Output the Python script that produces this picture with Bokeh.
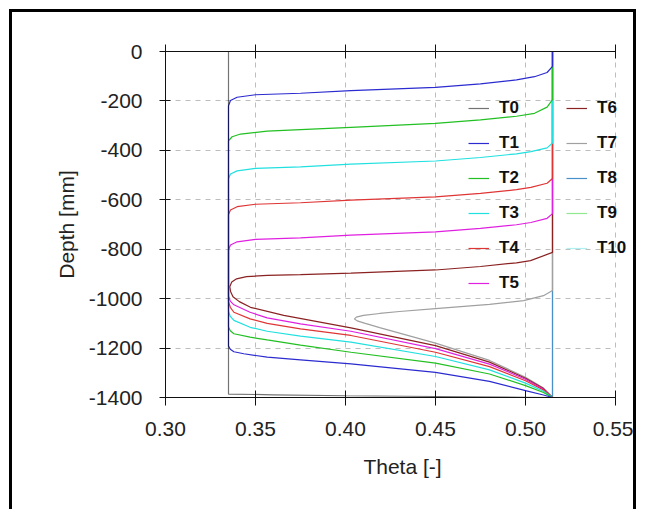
from bokeh.plotting import figure
from bokeh.models import (Range1d, LinearAxis, FixedTicker, NumeralTickFormatter,
                          CustomJSTickFormatter, Legend, LegendItem, ColumnDataSource, Grid)
from bokeh.embed import file_html
from bokeh.resources import INLINE

# ---------------- data ----------------
labels = ["T0", "T1", "T2", "T3", "T4", "T5", "T6", "T7", "T8", "T9", "T10"]
colors = ["#000000", "#2b2bd0", "#22c022", "#22e0e0", "#e03535", "#e020e0",
          "#8b2222", "#a0a0a0", "#4a90c8", "#90e890", "#b0f0f0"]

t0_theta = [0.335, 0.335, 0.36, 0.40, 0.45, 0.50, 0.515]
t0_depth = [0, -1386, -1389, -1393, -1396, -1399, -1400]

t1_theta = [0.515, 0.515, 0.512, 0.505, 0.495, 0.475, 0.45, 0.403, 0.375, 0.35, 0.3398, 0.3361, 0.335,
            0.335, 0.336, 0.338, 0.3435, 0.3565, 0.375, 0.403, 0.45, 0.48, 0.50, 0.51, 0.515]
t1_depth = [0, -60, -85, -102, -115, -131, -145, -158, -169, -175, -185, -198, -220,
            -1192, -1205, -1215, -1223, -1237, -1248, -1264, -1298, -1335, -1372, -1390, -1400]

t2_theta = [0.515, 0.515, 0.512, 0.505, 0.495, 0.475, 0.45, 0.403, 0.375, 0.3565, 0.3417, 0.337, 0.335,
            0.335, 0.336, 0.338, 0.347, 0.3565, 0.375, 0.403, 0.45, 0.48, 0.50, 0.51, 0.515]
t2_depth = [0, -195, -225, -250, -262, -277, -291, -307, -316, -322, -334, -345, -362,
            -1115, -1130, -1142, -1156, -1167, -1188, -1217, -1261, -1305, -1352, -1380, -1400]

t3_theta = [0.515, 0.515, 0.512, 0.503, 0.495, 0.475, 0.45, 0.403, 0.375, 0.35, 0.3398, 0.3361, 0.335,
            0.335, 0.336, 0.338, 0.347, 0.3565, 0.375, 0.403, 0.45, 0.48, 0.50, 0.51, 0.515]
t3_depth = [0, -370, -390, -405, -414, -429, -443, -456, -467, -473, -483, -496, -515,
            -1052, -1072, -1088, -1116, -1132, -1152, -1176, -1234, -1288, -1342, -1375, -1400]

t4_theta = [0.515, 0.515, 0.512, 0.503, 0.495, 0.475, 0.45, 0.403, 0.375, 0.35, 0.3398, 0.3361, 0.335,
            0.335, 0.336, 0.338, 0.347, 0.3565, 0.375, 0.403, 0.45, 0.48, 0.50, 0.51, 0.515]
t4_depth = [0, -514, -533, -550, -559, -574, -588, -601, -612, -618, -628, -641, -660,
            -1012, -1035, -1055, -1082, -1100, -1122, -1149, -1217, -1275, -1332, -1370, -1400]

t5_theta = [0.515, 0.515, 0.512, 0.503, 0.495, 0.475, 0.45, 0.403, 0.375, 0.35, 0.3398, 0.3361, 0.335,
            0.335, 0.336, 0.338, 0.347, 0.3565, 0.375, 0.403, 0.45, 0.48, 0.50, 0.51, 0.515]
t5_depth = [0, -656, -675, -692, -701, -716, -730, -743, -754, -760, -770, -783, -802,
            -990, -1010, -1025, -1055, -1078, -1102, -1132, -1202, -1265, -1326, -1367, -1400]

t6_theta = [0.515, 0.515, 0.5028, 0.495, 0.475, 0.45, 0.403, 0.375, 0.3565, 0.345, 0.3395, 0.3368, 0.3357,
            0.3362, 0.3375, 0.341, 0.3472, 0.3657, 0.403, 0.45, 0.48, 0.50, 0.51, 0.515]
t6_depth = [0, -813, -846, -855, -870, -884, -897, -903, -906, -911, -920, -933, -952,
            -972, -992, -1012, -1035, -1068, -1118, -1190, -1257, -1322, -1364, -1400]

t7_theta = [0.515, 0.515, 0.51, 0.499, 0.48, 0.45, 0.43, 0.419, 0.41, 0.406, 0.405,
            0.4065, 0.411, 0.419, 0.45, 0.48, 0.50, 0.51, 0.515]
t7_depth = [0, -967, -988, -1008, -1023, -1040, -1052, -1060, -1068, -1075, -1082,
            -1090, -1100, -1117, -1180, -1250, -1318, -1362, -1400]

t8_theta = [0.515, 0.515]
t8_depth = [0, -1400]
t9_theta = [0.515, 0.515]
t9_depth = [0, -1400]
t10_theta = [0.515, 0.515]
t10_depth = [0, -1400]

x_ticks = [0.30, 0.35, 0.40, 0.45, 0.50, 0.55]
y_ticks = [-1400, -1200, -1000, -800, -600, -400, -200, 0]

series = [(t0_theta, t0_depth), (t1_theta, t1_depth), (t2_theta, t2_depth), (t3_theta, t3_depth),
          (t4_theta, t4_depth), (t5_theta, t5_depth), (t6_theta, t6_depth), (t7_theta, t7_depth),
          (t8_theta, t8_depth), (t9_theta, t9_depth), (t10_theta, t10_depth)]

# ---------------- figure ----------------
FONT = "Liberation Sans"
TEXT = "#222222"
X0, X1 = 0.30, 0.55
PX_PER_UNIT = 1800.0
W, H = 627, 500
ML, MR, MT, MB = 153, 0, 39, 115
x_end = X0 + (W - ML - MR) / PX_PER_UNIT   # a little room right of 0.55 for the legend

p = figure(width=W, height=H, output_backend="svg", toolbar_location=None,
           x_range=Range1d(X0, x_end), y_range=Range1d(-1400, 0),
           min_border_left=ML, min_border_right=MR, min_border_top=MT, min_border_bottom=MB,
           x_axis_label="Theta [-]", y_axis_label="Depth [mm]")
p.styles = {"border": "3px solid black", "border-bottom": "none",
            "margin-left": "9px", "margin-top": "9px"}
p.outline_line_color = None
p.background_fill_color = "white"
p.border_fill_color = "white"

for ax in (p.xaxis[0], p.yaxis[0]):
    ax.axis_line_color = "#111111"
    ax.major_tick_line_color = "#111111"
    ax.minor_tick_line_color = None
    ax.major_label_text_font = FONT
    ax.major_label_text_font_size = "21px"
    ax.major_label_text_color = TEXT
    ax.axis_label_text_font = FONT
    ax.axis_label_text_font_size = "21px"
    ax.axis_label_text_font_style = "normal"
    ax.axis_label_text_color = TEXT

p.xaxis[0].ticker = FixedTicker(ticks=x_ticks)
p.xaxis[0].formatter = NumeralTickFormatter(format="0.00")
p.xaxis[0].bounds = (X0, X1)
p.xaxis[0].major_tick_out = 8
p.xaxis[0].major_tick_in = 7
p.xaxis[0].major_label_standoff = 16
p.xaxis[0].axis_label_standoff = 16

p.yaxis[0].ticker = FixedTicker(ticks=y_ticks)
p.yaxis[0].formatter = NumeralTickFormatter(format="0")
p.yaxis[0].major_tick_out = 6
p.yaxis[0].major_tick_in = 5
p.yaxis[0].major_label_standoff = 17
p.yaxis[0].axis_label_standoff = 8

top = LinearAxis(ticker=FixedTicker(ticks=x_ticks),
                 formatter=CustomJSTickFormatter(code="return '';"),
                 axis_line_color="#111111", major_tick_line_color="#111111",
                 minor_tick_line_color=None, major_tick_in=7, major_tick_out=7,
                 major_label_standoff=0)
top.bounds = (X0, X1)
p.add_layout(top, "above")

for g in (p.xgrid[0], p.ygrid[0]):
    g.grid_line_color = "#bdbdbd"
    g.grid_line_dash = "5 5"
    g.grid_line_width = 1
p.xgrid[0].ticker = FixedTicker(ticks=x_ticks)
p.xgrid[0].bounds = (X0, X1)
p.ygrid[0].ticker = FixedTicker(ticks=y_ticks)
if "cross_bounds" in Grid.properties():
    p.ygrid[0].cross_bounds = (X0, X1)

renderers = [None] * len(series)
for i in reversed(range(len(series))):
    th, de = series[i]
    src = ColumnDataSource(dict(x=th, y=de))
    alpha = 0.55 if i == 0 else 1.0
    renderers[i] = p.line("x", "y", source=src, line_color=colors[i], line_width=1.2, line_alpha=alpha)

items = [LegendItem(label=labels[i], renderers=[renderers[i]]) for i in range(len(series))]
legend = Legend(items=items, location=(303, 104), orientation="vertical", nrows=6,
                glyph_width=21, glyph_height=20, label_height=20, label_width=52,
                label_standoff=10, spacing=15, padding=0, margin=0,
                border_line_color=None, background_fill_alpha=0,
                label_text_font=FONT, label_text_font_size="17px",
                label_text_font_style="bold", label_text_color="#111111")
p.add_layout(legend, "center")

open("out.html", "w").write(file_html(p, INLINE))
